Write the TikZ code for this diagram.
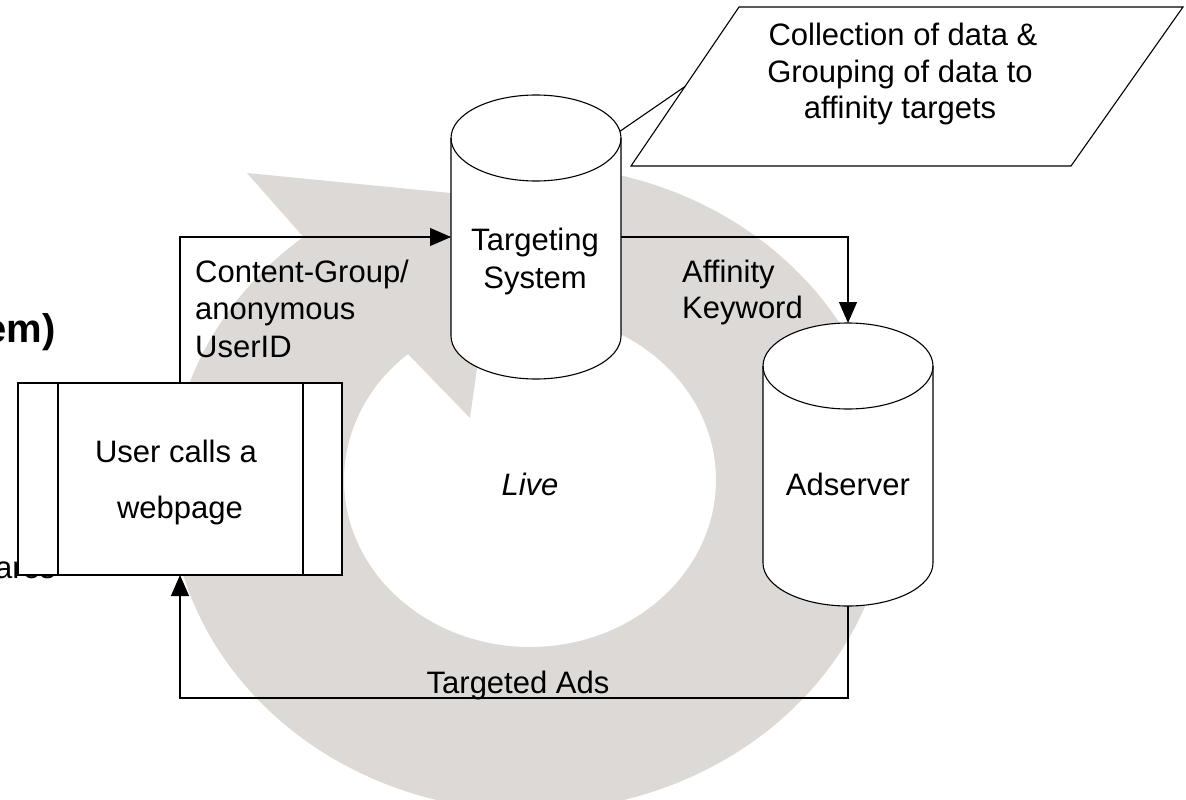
\documentclass[tikz,border=0pt]{standalone}
\usepackage{fontspec}
\setmainfont{Liberation Sans}
\usetikzlibrary{arrows.meta,calc}
\definecolor{ringgray}{RGB}{220,217,214}
\begin{document}
\begin{tikzpicture}[x=1pt,y=-1pt,
  conn/.style={line width=1.1pt, draw=black},
  arr/.style={conn, -{Triangle[length=21pt,width=18pt]}},
  shapeline/.style={line width=1.1pt, draw=black, fill=white},
  hit/.style={rectangle, draw=none, inner sep=0pt, outer sep=0pt},
  lbl/.style={font=\fontsize{31}{37}\selectfont, inner sep=0pt, text=black},
  biglbl/.style={font=\bfseries\fontsize{40}{48}\selectfont, inner sep=0pt, text=black},
]
\useasboundingbox (0,0) rectangle (1186,800);
\clip (0,0) rectangle (1186,800);
\fill[white] (0,0) rectangle (1186,800);

% big circular arrow in the background
\fill[ringgray] ([shift={(530,488)}]79:360pt and 323pt)
  arc[start angle=79, end angle=-231, x radius=360pt, y radius=323pt]
  -- (247,173) -- (501,198) -- (470,418)
  -- ([shift={(530,480)}]131:186pt and 167pt)
  arc[start angle=131, end angle=432, x radius=186pt, y radius=167pt]
  -- cycle;

% clipped texts at the left border
\node[biglbl, anchor=base east] (emtext) at (56,342) {em)};
\node[lbl, anchor=base west] (aretext) at (-5,578) {ares};

% anchor nodes of the shapes
\node[hit, minimum width=170pt, minimum height=284pt] (ts) at (536,237) {};
\node[hit, minimum width=170pt, minimum height=283pt] (as) at (848,464.5) {};
\node[hit, minimum width=324pt, minimum height=192pt] (web) at (180,479) {};
\coordinate (p1) at (739,7);
\coordinate (p2) at (1183,7);
\coordinate (p3) at (1071,166);
\coordinate (p4) at (631,166);

% connectors
\draw[arr] (web.north) |- (ts.west);
\draw[arr] (ts.east) -| (as.north);
\draw[arr] (as.south) -- ++(0,92) coordinate (bottomturn) -| (web.south);

% Targeting System cylinder
\filldraw[shapeline] ([yshift=-43pt]ts.north west) -- ([yshift=43pt]ts.south west)
  arc[start angle=180, end angle=360, x radius=85pt, y radius=43pt]
  -- ([yshift=-43pt]ts.north east)
  arc[start angle=0, end angle=180, x radius=85pt, y radius=43pt] -- cycle;
\draw[conn] ([yshift=-43pt]ts.north west)
  arc[start angle=180, end angle=360, x radius=85pt, y radius=43pt];

% Adserver cylinder
\filldraw[shapeline] ([yshift=-43pt]as.north west) -- ([yshift=43pt]as.south west)
  arc[start angle=180, end angle=360, x radius=85pt, y radius=43pt]
  -- ([yshift=-43pt]as.north east)
  arc[start angle=0, end angle=180, x radius=85pt, y radius=43pt] -- cycle;
\draw[conn] ([yshift=-43pt]as.north west)
  arc[start angle=180, end angle=360, x radius=85pt, y radius=43pt];

% webpage box
\filldraw[shapeline] (web.north west) rectangle (web.south east);
\draw[conn] ([xshift=40pt]web.north west) -- ([xshift=40pt]web.south west);
\draw[conn] ([xshift=-39pt]web.north east) -- ([xshift=-39pt]web.south east);

% note parallelogram and callout
\filldraw[shapeline] (p1) -- (p2) -- (p3) -- (p4) -- cycle;
\coordinate (tscall) at ([shift={(536,138)}]9:85pt and 43pt);
\coordinate (ptail) at ($(p4)!0.5!(p1)$);
\draw[conn] (tscall) -- (ptail);

% texts
\node[lbl, anchor=base west] (cg1) at (195,282) {Content-Group/};
\node[lbl, anchor=base west] (cg2) at (195,319) {anonymous};
\node[lbl, anchor=base west] (cg3) at (195,357) {UserID};
\node[lbl, anchor=base west] (ak1) at (682,282) {Affinity};
\node[lbl, anchor=base west] (ak2) at (682,318) {Keyword};
\node[lbl, anchor=base] (ts1) at (535,250) {Targeting};
\node[lbl, anchor=base] (ts2) at (535,288) {System};
\node[lbl, anchor=base] (as1) at (848,495) {Adserver};
\node[lbl, anchor=base] (live) at (530,495) {\itshape Live};
\node[lbl, anchor=base] (w1) at (176,462) {User calls a};
\node[lbl, anchor=base] (w2) at (180,518) {webpage};
\node[lbl, anchor=base] (ta) at (518,693) {Targeted Ads};
\node[lbl, anchor=base] (n1) at (903,46) {Collection of data \&};
\node[lbl, anchor=base] (n2) at (900,82) {Grouping of data to};
\node[lbl, anchor=base] (n3) at (900,118) {affinity targets};
\end{tikzpicture}
\end{document}
